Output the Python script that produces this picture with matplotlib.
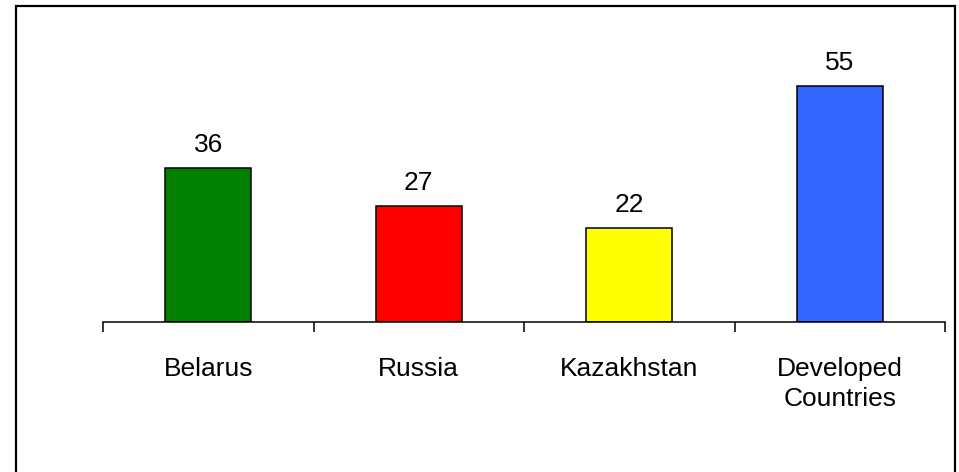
import matplotlib
matplotlib.use("Agg")
import matplotlib.pyplot as plt
from matplotlib.patches import Rectangle

categories = ["Belarus", "Russia", "Kazakhstan", "Developed\nCountries"]
values = [36, 27, 22, 55]
colors = ["#008000", "#ff0000", "#ffff00", "#3366ff"]

W, H = 959, 472
plt.rcParams["font.family"] = ["Liberation Sans", "DejaVu Sans"]
fig = plt.figure(figsize=(W / 100, H / 100), dpi=100)

# outer frame
fig.patches.append(Rectangle((16 / W, -0.05), (955 - 16) / W, 1.05 - 6 / H,
                             transform=fig.transFigure, fill=False,
                             edgecolor="black", linewidth=1.6))

ax = fig.add_axes([103 / W, (H - 322) / H, (945 - 103) / W, 300 / H])
x = range(len(categories))
ax.bar(x, values, width=0.41, color=colors, edgecolor="black", linewidth=1.1)
ax.set_xlim(-0.5, len(categories) - 0.5)
ax.set_ylim(0, 70)

for xi, v in zip(x, values):
    ax.annotate(str(v), (xi, v), xytext=(0, 8), textcoords="offset points",
                ha="center", va="bottom", fontsize=19)

for s in ["top", "right", "left"]:
    ax.spines[s].set_visible(False)
ax.spines["bottom"].set_linewidth(1.1)
ax.set_yticks([])
ax.set_xticks([i - 0.5 for i in range(len(categories) + 1)])
ax.set_xticklabels([])
ax.tick_params(axis="x", length=7, width=1.1, direction="out")

for xi, c in zip(x, categories):
    ax.annotate(c, (xi, 0), xytext=(0, -25), textcoords="offset points",
                ha="center", va="top", fontsize=19, linespacing=1.35)

fig.savefig("out.png", dpi=100)
